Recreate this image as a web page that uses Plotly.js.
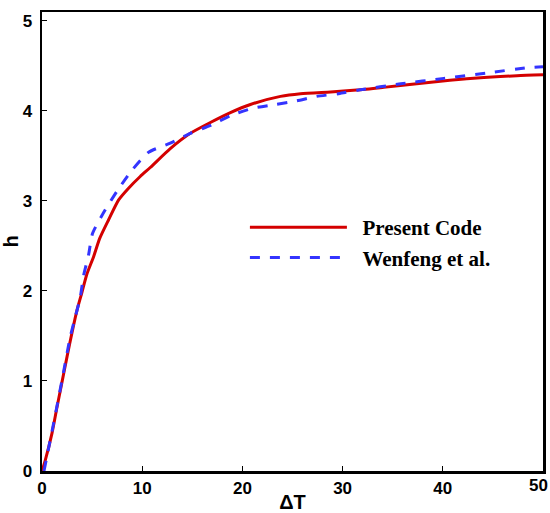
<!DOCTYPE html>
<html>
<head>
<meta charset="utf-8">
<script src="https://cdn.plot.ly/plotly-3.0.1.min.js"></script>
<style>html,body{margin:0;padding:0;background:#fff;}#chart{width:550px;height:513px;}</style>
</head>
<body>
<div id="chart"></div>
<script>
var presentX = [0, 0.33, 1.0, 1.5, 2.0, 2.5, 3.0, 3.5, 4.0, 4.49, 5.15, 5.75, 6.65, 7.65, 8.64, 9.8, 10.8, 12.8, 14.8, 16.8, 18.8, 20.8, 23.8, 25.8, 28.8, 31.4, 34.1, 37.4, 40.7, 44.1, 47.4, 50];
var presentY = [0, 0.12, 0.42, 0.71, 0.99, 1.27, 1.54, 1.79, 1.99, 2.19, 2.38, 2.58, 2.79, 3.01, 3.14, 3.27, 3.37, 3.58, 3.75, 3.87, 3.98, 4.07, 4.16, 4.19, 4.21, 4.23, 4.26, 4.30, 4.34, 4.37, 4.39, 4.40];
var wenfengX = [0.2, 1.16, 2.0, 2.82, 3.32, 3.82, 4.15, 4.65, 5.05, 6.15, 7.5, 8.98, 10.64, 12.8, 14.8, 16.9, 18.9, 21.1, 23.3, 25.4, 27.4, 29.6, 31.6, 35.8, 40.1, 44.4, 48.6, 50];
var wenfengY = [0, 0.53, 1.01, 1.49, 1.71, 1.93, 2.17, 2.40, 2.64, 2.87, 3.11, 3.34, 3.54, 3.64, 3.75, 3.84, 3.95, 4.03, 4.07, 4.11, 4.16, 4.19, 4.23, 4.30, 4.36, 4.42, 4.48, 4.49];
var seriesNames = ['Present Code', 'Wenfeng et al.'];
var xTicks = [0, 10, 20, 30, 40, 50];
var xTickText = ['0', '10', '20', '30', '40', ''];
var lastXLabel = '50';
var yTicks = [0, 1, 2, 3, 4, 5];

var pad = '\u00a0\u00a0';
var traces = [
  {x: presentX, y: presentY, type: 'scatter', mode: 'lines', name: pad + seriesNames[0],
   line: {color: '#d40000', width: 3, shape: 'spline', smoothing: 0.6}},
  {x: wenfengX, y: wenfengY, type: 'scatter', mode: 'lines', name: pad + seriesNames[1],
   line: {color: '#3434ff', width: 3, dash: '10px,10px', shape: 'spline', smoothing: 0.6}}
];

var axisFont = {family: 'Liberation Sans, Arial, sans-serif', size: 17, color: '#000', weight: 'bold'};
var layout = {
  width: 550, height: 513,
  margin: {l: 41.7, r: 7.3, t: 12, b: 42.3},
  paper_bgcolor: '#fff', plot_bgcolor: '#fff',
  showlegend: true,
  legend: {x: 0.405, y: 0.575, xanchor: 'left', yanchor: 'top', itemwidth: 97, tracegroupgap: 0,
           bgcolor: 'rgba(0,0,0,0)', borderwidth: 0,
           font: {family: 'Liberation Serif, Times New Roman, serif', size: 21, color: '#000', weight: 'bold'}},
  annotations: [{text: lastXLabel, xref: 'x', yref: 'paper', x: xTicks[xTicks.length - 1], y: 0,
                 xanchor: 'right', yanchor: 'top', xshift: 7, yshift: -3, showarrow: false,
                 font: axisFont}],
  xaxis: {range: [0, 50], tickvals: xTicks, ticktext: xTickText, ticks: 'inside', ticklen: 5, tickwidth: 1, tickcolor: '#000',
          showline: true, linecolor: '#000', linewidth: 2.5, mirror: true, showgrid: false, zeroline: false,
          tickfont: axisFont,
          title: {text: 'ΔT', font: {family: 'Liberation Sans, Arial, sans-serif', size: 20, color: '#000', weight: 'bold'}, standoff: 3}},
  yaxis: {range: [0, 5.097], tickvals: yTicks, ticktext: yTicks.map(String), ticks: 'inside', ticklen: 5, tickwidth: 1, tickcolor: '#000',
          showline: true, linecolor: '#000', linewidth: 2.5, mirror: true, showgrid: false, zeroline: false,
          tickfont: axisFont, ticklabelstandoff: 4,
          title: {text: 'h', font: {family: 'Liberation Sans, Arial, sans-serif', size: 20, color: '#000', weight: 'bold'}, standoff: 2}}
};
Plotly.newPlot('chart', traces, layout, {staticPlot: true, displayModeBar: false});
</script>
</body>
</html>
